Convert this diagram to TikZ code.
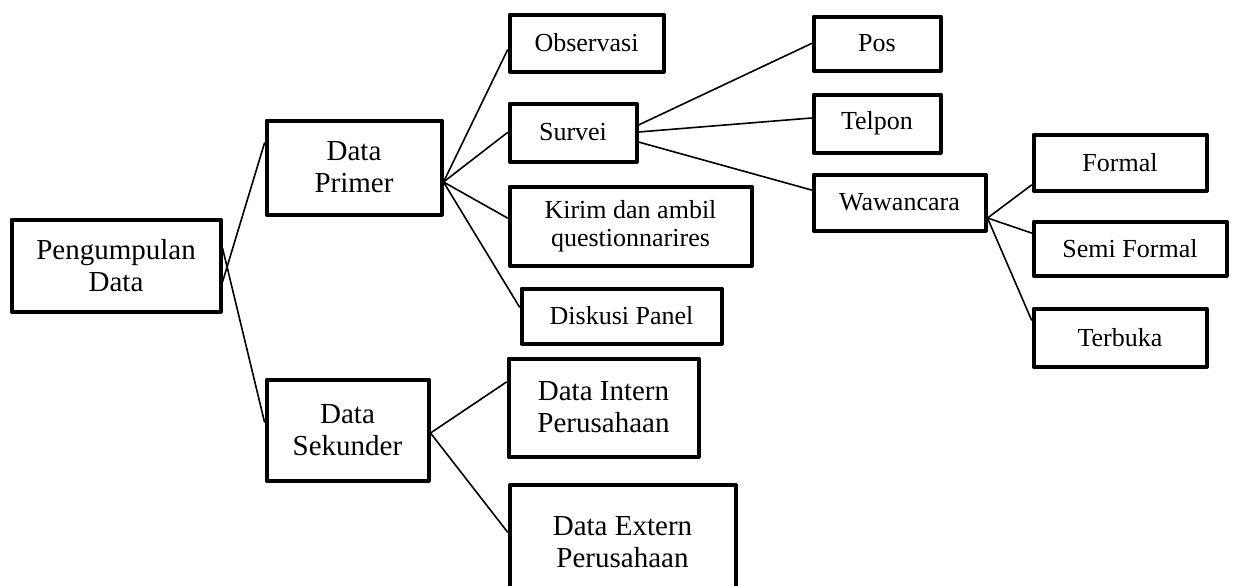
\documentclass[tikz,border=0pt]{standalone}
\usepackage{fontspec}
\setmainfont{Liberation Serif}
\begin{document}
\begin{tikzpicture}[x=0.5pt, y=-0.5pt, line join=round, line cap=round,
		kotak/.style={draw, line width=2pt, align=center, inner sep=2pt, font=\fontsize{13}{14}\selectfont},
		kotakbesar/.style={kotak, font=\fontsize{14.5}{16}\selectfont},
		garis/.style={line width=0.8pt}]
		\useasboundingbox (0,0) rectangle (1238,585);
		\clip (0,0) rectangle (1238,585);
		% cot 1 - 2
		\node[kotakbesar, minimum width=104.5pt, minimum height=46pt] (pd) at (116,265.5) {Pengumpulan\\Data};
		\node[kotakbesar, minimum width=87.5pt, minimum height=47pt] (primer) at (354,167.5) {Data\\Primer};
		\node[kotakbesar, minimum width=81pt, minimum height=50.5pt] (sekunder) at (347.5,430) {Data\\Sekunder};
		% cot 3
		\node[kotak, minimum width=77pt, minimum height=28.5pt] (observasi) at (586.5,43) {Observasi};
		\node[kotak, minimum width=63.5pt, minimum height=29pt] (survei) at (573,132.5) {Survei};
		\node[kotak, minimum width=121pt, minimum height=39.5pt] (kirim) at (630.5,226) {Kirim dan ambil\\questionnarires};
		\node[kotak, minimum width=100pt, minimum height=27.5pt] (diskusi) at (621.5,316) {Diskusi Panel};
		\node[kotakbesar, minimum width=95pt, minimum height=49pt] (intern) at (603.5,407.5) {Data Intern\\Perusahaan};
		\node[kotakbesar, minimum width=113pt, minimum height=57pt] (extern) at (622.5,542) {Data Extern\\Perusahaan};
		% cot 4 - 5
		\node[kotak, minimum width=63.5pt, minimum height=27pt] (pos) at (877,43.5) {Pos};
		\node[kotak, minimum width=63.5pt, minimum height=29pt] (telpon) at (877,123.5) {Telpon};
		\node[kotak, minimum width=86pt, minimum height=28pt] (wawancara) at (899.5,202.5) {Wawancara};
		\node[kotak, minimum width=86.5pt, minimum height=28pt] (formal) at (1120,162.5) {Formal};
		\node[kotak, minimum width=96.5pt, minimum height=27pt] (semiformal) at (1130,248.5) {Semi Formal};
		\node[kotak, minimum width=86.5pt, minimum height=29pt] (terbuka) at (1120,337.5) {Terbuka};
		% garis
		\draw[garis] ([yshift=-8.25pt]pd.east)--([yshift=12.25pt]primer.west);
		\draw[garis] ([yshift=8.75pt]pd.east)--([yshift=4pt]sekunder.west);
		\draw[garis] ([yshift=-7.25pt]primer.east)--([yshift=-3.5pt]observasi.west);
		\draw[garis] ([yshift=-7.25pt]primer.east)--(survei.west);
		\draw[garis] ([yshift=-7.25pt]primer.east)--([yshift=4pt]kirim.west);
		\draw[garis] ([yshift=-7.25pt]primer.east)--([yshift=4.5pt]diskusi.west);
		\draw[garis] ([yshift=-1.5pt]sekunder.east)--([yshift=12.75pt]intern.west);
		\draw[garis] ([yshift=-1.5pt]sekunder.east)--([yshift=5pt]extern.west);
		\draw[garis] ([yshift=3.75pt]survei.east)--(pos.west);
		\draw[garis] ([yshift=0.25pt]survei.east)--([yshift=2.75pt]telpon.west);
		\draw[garis] ([yshift=-4.75pt]survei.east)--([yshift=6.25pt]wawancara.west);
		\draw[garis] ([yshift=-7.75pt]wawancara.east)--([yshift=-11.25pt]formal.west);
		\draw[garis] ([yshift=-7.75pt]wawancara.east)--([yshift=7.75pt]semiformal.west);
		\draw[garis] ([yshift=-7.75pt]wawancara.east)--([yshift=8.75pt]terbuka.west);
	\end{tikzpicture}
\end{document}
